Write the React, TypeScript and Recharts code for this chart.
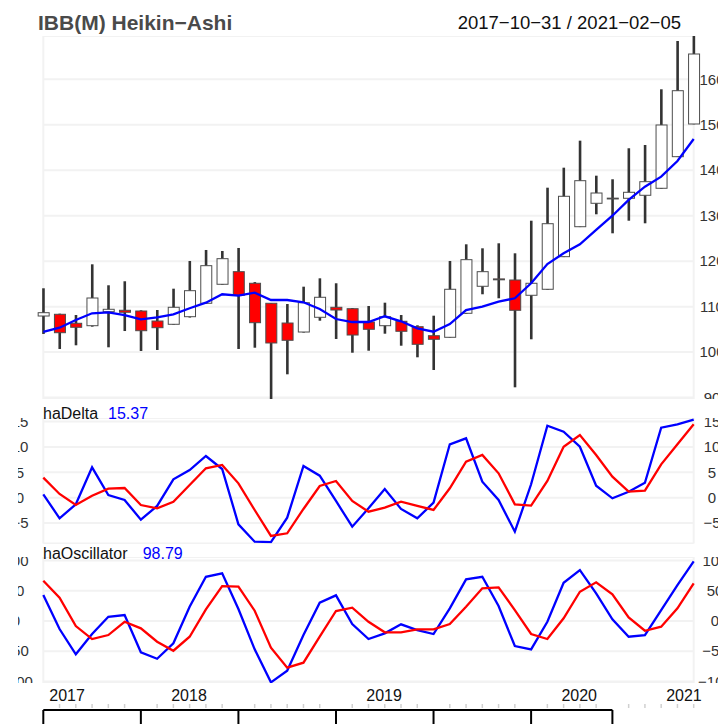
import React from "react";
import {
  Bar,
  CartesianGrid,
  ComposedChart,
  Line,
  ReferenceLine,
  XAxis,
  YAxis,
} from "recharts";

const FONT = '"Liberation Sans", Arial, Helvetica, sans-serif';

// monthly Heikin-Ashi bars, Oct 2017 .. Feb 2021
const months = [
  "2017-10", "2017-11", "2017-12",
  "2018-01", "2018-02", "2018-03", "2018-04", "2018-05", "2018-06",
  "2018-07", "2018-08", "2018-09", "2018-10", "2018-11", "2018-12",
  "2019-01", "2019-02", "2019-03", "2019-04", "2019-05", "2019-06",
  "2019-07", "2019-08", "2019-09", "2019-10", "2019-11", "2019-12",
  "2020-01", "2020-02", "2020-03", "2020-04", "2020-05", "2020-06",
  "2020-07", "2020-08", "2020-09", "2020-10", "2020-11", "2020-12",
  "2021-01", "2021-02",
];

const haOpen = [
  107.94, 108.32, 106.34, 105.81, 108.89, 109.2, 109.04, 106.84, 106.12, 107.79,
  110.74, 114.92, 117.69, 115.14, 110.74, 106.4, 104.42, 107.66, 109.86, 109.55,
  106.62, 105.81, 106.78, 105.59, 103.61, 103.26, 108.54, 114.48, 116.1, 115.86,
  112.5, 113.82, 120.99, 127.58, 132.73, 133.86, 133.83, 134.49, 136.03, 142.98,
  150.17,
];
const haClose = [
  108.67, 104.27, 105.46, 111.9, 109.42, 108.76, 104.71, 105.37, 109.86, 113.51,
  119.01, 120.55, 112.5, 106.47, 102.01, 102.6, 110.87, 112.06, 109.26, 103.76,
  105.02, 107.79, 104.58, 101.72, 102.82, 113.82, 120.33, 117.69, 115.9, 109.2,
  115.14, 128.24, 134.27, 137.7, 134.99, 133.8, 135.15, 137.48, 149.95, 157.49,
  165.56,
];
const haHigh = [
  114.04, 108.45, 108.16, 119.31, 114.7, 115.58, 109.2, 109.26, 113.95, 120.04,
  122.46, 122.24, 122.9, 115.4, 110.8, 110.58, 114.39, 116.23, 115.14, 109.7,
  110.14, 110.87, 108.16, 105.9, 108.01, 120.04, 123.71, 122.83, 123.93, 121.73,
  128.9, 136.16, 140.56, 146.5, 138.8, 138.01, 144.83, 145.55, 157.8, 168.42,
  171.5,
];
const haLow = [
  103.99, 100.69, 101.5, 105.6, 101.06, 104.64, 100.25, 100.47, 106.0, 107.6,
  110.6, 114.8, 100.69, 100.97, 88.5, 95.12, 104.3, 106.91, 102.89, 99.87,
  100.31, 104.05, 101.41, 98.86, 96.07, 103.2, 108.4, 112.72, 111.84, 92.26,
  102.82, 113.7, 120.9, 127.5, 130.31, 126.13, 128.9, 128.33, 135.9, 142.9,
  150.1,
];
const maLine = [
  104.43, 105.37, 107.06, 108.54, 108.76, 108.16, 107.22, 107.66, 108.32, 109.64,
  110.87, 112.72, 112.41, 113.07, 111.46, 111.46, 110.96, 109.48, 107.28, 106.62,
  106.62, 107.88, 106.78, 105.24, 104.49, 106.18, 109.26, 109.99, 111.09, 111.84,
  115.14, 119.38, 121.73, 123.71, 126.86, 130.0, 133.46, 136.38, 138.58, 142.03,
  146.87,
];

const haDelta = [
  0.67, -4.06, -1.3, 5.98, 0.53, -0.45, -4.33, -1.63, 3.62, 5.45,
  8.21, 5.65, -5.24, -8.67, -8.73, -3.94, 6.24, 4.33, -0.65, -5.71,
  -2.09, 1.71, -2.22, -4.06, -0.98, 10.51, 11.69, 3.15, -0.45, -6.69,
  2.64, 14.17, 12.99, 10.04, 2.36, -0.12, 1.18, 2.95, 13.78, 14.45,
  15.37,
];
const haDeltaSignal = [
  3.94, 0.73, -1.44, 0.39, 1.77, 1.91, -1.44, -2.09, -0.79, 2.5,
  5.79, 6.44, 2.83, -2.42, -7.54, -7.01, -2.22, 2.3, 3.29, -0.65,
  -2.76, -1.97, -0.79, -1.63, -2.42, 1.85, 7.09, 8.41, 4.8, -1.3,
  -1.57, 3.29, 10.04, 12.34, 8.41, 4.13, 1.18, 1.38, 6.57, 10.51,
  14.45,
];
const haOsc = [
  43.0, -13.2, -55.1, -21.5, 7.1, 9.9, -51.8, -62.4, -36.9, 23.7,
  73.3, 79.0, 19.9, -46.9, -101.5, -82.3, -23.2, 30.3, 42.5, -5.0,
  -29.8, -20.4, -5.5, -14.9, -21.5, 21.0, 69.0, 73.3, 24.8, -41.4,
  -46.9, -1.2, 63.4, 84.4, 45.9, 2.8, -26.0, -23.2, 18.2, 59.6,
  98.79,
];
const haOscSignal = [
  66.7, 38.6, -8.3, -29.8, -23.2, -1.2, -12.1, -34.3, -49.2, -26.0,
  19.4, 57.9, 56.8, 17.1, -44.2, -77.3, -69.0, -26.0, 16.6, 22.0,
  -1.2, -18.7, -18.7, -13.7, -13.7, -5.0, 23.7, 54.1, 55.8, 18.2,
  -21.5, -29.8, 4.5, 48.5, 64.1, 44.2, 6.1, -16.1, -9.4, 21.0,
  62.4,
];

const priceTicks = [90, 100, 110, 120, 130, 140, 150, 160];
const deltaTicks = [-10, -5, 0, 5, 10, 15];
const oscTicks = [-100, -50, 0, 50, 100];
const yearGrid = [0, 3, 15, 27, 39]; // first bar + each January
const yearLabels = ["2017", "2018", "2019", "2020", "2021"];
const yearLabelAt = [1.46, 8.96, 20.96, 32.96, 39.4];
const majorTicks = [0, 6, 12, 18, 24, 30, 35];

const rows = months.map((m, i) => ({
  i,
  month: m,
  wick: [haLow[i], haHigh[i]],
  body: [Math.min(haOpen[i], haClose[i]), Math.max(haOpen[i], haClose[i])],
  up: haClose[i] >= haOpen[i],
  ma: maLine[i],
  delta: haDelta[i],
  deltaSig: haDeltaSignal[i],
  osc: haOsc[i],
  oscSig: haOscSignal[i],
}));

const fmt = (v: number) => (v < 0 ? "\u2212" + Math.abs(v) : String(v));

const makeTick = (dx: number) => (p: any) => (
  <text
    x={p.x + dx}
    y={p.y}
    dy="0.35em"
    textAnchor="middle"
    fontSize={15}
    fill="#333"
    fontFamily={FONT}
  >
    {fmt(p.payload.value)}
  </text>
);

const YearTick = (p: any) => (
  <text x={p.x} y={p.y - 3.3} textAnchor="middle" fontSize={16} fill="#111" fontFamily={FONT}>
    {yearLabels[yearLabelAt.indexOf(p.payload.value)]}
  </text>
);

const Wick = (p: any) => <rect x={p.x} y={p.y} width={p.width} height={p.height} fill="#333" />;

const Body = (p: any) => (
  <rect
    x={p.x}
    y={p.y}
    width={p.width}
    height={Math.max(p.height, 0.8)}
    fill={p.payload.up ? "#ffffff" : "#ff0000"}
    stroke="#4d4d4d"
    strokeWidth={1}
  />
);

// plot area runs from x=43.3 to x=693.7 on the page
const PLOT_R = 24.3;

const gridXAxis = (
  <XAxis
    dataKey="i"
    type="number"
    domain={[0, 40]}
    ticks={yearGrid}
    interval={0}
    height={0}
    tick={false}
    axisLine={false}
    tickLine={false}
  />
);

// sub panels start at x=18 so the left labels get cut like the original
const SUB_X = 18;
const SUB_W = 718 - SUB_X;
const SUB_L = 43.3 - SUB_X;

function Panel({ top, height, domain, ticks, left, right, a, b }: any) {
  return (
    <div style={{ position: "absolute", left: SUB_X, top, width: SUB_W, height, overflow: "hidden" }}>
      <ComposedChart width={SUB_W} height={height} data={rows} margin={{ top: 0, right: 0, bottom: 0, left: 0 }}>
        <CartesianGrid stroke="#f2f2f2" strokeWidth={2} yAxisId="r" />
        {gridXAxis}
        <YAxis
          yAxisId="l"
          orientation="left"
          type="number"
          domain={domain}
          allowDataOverflow
          ticks={ticks}
          interval={0}
          width={SUB_L}
          tickSize={0}
          tickMargin={0}
          axisLine={false}
          tickLine={false}
          tick={makeTick(left)}
        />
        <YAxis
          yAxisId="r"
          orientation="right"
          type="number"
          domain={domain}
          allowDataOverflow
          ticks={ticks}
          interval={0}
          width={PLOT_R}
          tickSize={0}
          tickMargin={0}
          axisLine={false}
          tickLine={false}
          tick={makeTick(right)}
        />
        <Line yAxisId="r" dataKey={a} stroke="#0000ff" strokeWidth={2.3} dot={false} isAnimationActive={false} />
        <Line yAxisId="r" dataKey={b} stroke="#ff0000" strokeWidth={2.3} dot={false} isAnimationActive={false} />
      </ComposedChart>
    </div>
  );
}

export default function App() {
  return (
    <div
      style={{
        position: "absolute",
        left: 0,
        top: 0,
        width: 718,
        height: 724,
        background: "#fff",
        overflow: "hidden",
        fontFamily: FONT,
      }}
    >
      {/* price panel */}
      <div style={{ position: "absolute", left: SUB_X, top: 36, width: SUB_W, height: 363, overflow: "hidden" }}>
        <ComposedChart width={SUB_W} height={363} data={rows} margin={{ top: 0, right: 0, bottom: 0, left: SUB_L }}>
          <CartesianGrid stroke="#f2f2f2" strokeWidth={2} yAxisId="r" />
          {gridXAxis}
          <XAxis xAxisId="b" dataKey="i" type="number" domain={[0, 40]} hide />
          <YAxis
            yAxisId="r"
            orientation="right"
            type="number"
            domain={[89.69, 169.52]}
            allowDataOverflow
            ticks={priceTicks}
            interval={0}
            width={PLOT_R}
            tickSize={0}
            tickMargin={0}
            axisLine={false}
            tickLine={false}
            tick={makeTick(18.3)}
          />
          <Bar yAxisId="r" dataKey="wick" barSize={2.6} shape={Wick} isAnimationActive={false} />
          <Bar yAxisId="r" xAxisId="b" dataKey="body" barSize={11} shape={Body} isAnimationActive={false} />
          <Line yAxisId="r" dataKey="ma" stroke="#0000ff" strokeWidth={2.3} dot={false} isAnimationActive={false} />
        </ComposedChart>
      </div>

      <Panel top={418} height={125.5} domain={[-9.02, 15.69]} ticks={deltaTicks} left={-23.3} right={18.3} a="delta" b="deltaSig" />
      <Panel top={557} height={126} domain={[-102.6, 106]} ticks={oscTicks} left={-27.3} right={21.3} a="osc" b="oscSig" />

      {/* time axis */}
      <div style={{ position: "absolute", left: SUB_X, top: 683, width: SUB_W, height: 41, overflow: "hidden" }}>
        <ComposedChart width={SUB_W} height={41} data={rows} margin={{ top: 0, right: PLOT_R, bottom: 0, left: SUB_L }}>
          <XAxis
            xAxisId="lab"
            orientation="top"
            dataKey="i"
            type="number"
            domain={[0, 40]}
            ticks={yearLabelAt}
            interval={0}
            height={21}
            tickSize={0}
            tickMargin={0}
            axisLine={false}
            tickLine={false}
            tick={YearTick}
          />
          <XAxis dataKey="i" type="number" domain={[0, 40]} hide />
          <YAxis hide type="number" domain={[0, 20]} reversed allowDataOverflow />
          {months.map((_, k) =>
            majorTicks.includes(k) ? null : (
              <ReferenceLine key={"m" + k} segment={[{ x: k, y: 0 }, { x: k, y: 4 }]} stroke="#d0d0d0" strokeWidth={1.5} />
            )
          )}
          <ReferenceLine segment={[{ x: 0, y: 6 }, { x: 35, y: 6 }]} stroke="#000" strokeWidth={2} />
          {majorTicks.map((k) => (
            <ReferenceLine key={k} segment={[{ x: k, y: 6 }, { x: k, y: 20 }]} stroke="#000" strokeWidth={2} />
          ))}
        </ComposedChart>
      </div>

      {/* titles */}
      <svg width={718} height={724} style={{ position: "absolute", left: 0, top: 0, pointerEvents: "none" }}>
        <text x={38} y={29.5} fontSize={21} fontWeight="bold" fill="#4a4a4a" fontFamily={FONT}>
          IBB(M) Heikin{"\u2212"}Ashi
        </text>
        <text x={681} y={28.5} fontSize={18.5} textAnchor="end" fill="#111" fontFamily={FONT}>
          2017{"\u2212"}10{"\u2212"}31 / 2021{"\u2212"}02{"\u2212"}05
        </text>
        <text x={43} y={419} fontSize={16} fill="#111" fontFamily={FONT}>
          haDelta
        </text>
        <text x={108} y={419} fontSize={16} fill="#0000ff" fontFamily={FONT}>
          {haDelta[haDelta.length - 1].toFixed(2)}
        </text>
        <text x={43} y={559} fontSize={16} fill="#111" fontFamily={FONT}>
          haOscillator
        </text>
        <text x={142.7} y={559} fontSize={16} fill="#0000ff" fontFamily={FONT}>
          {haOsc[haOsc.length - 1].toFixed(2)}
        </text>
      </svg>
    </div>
  );
}
